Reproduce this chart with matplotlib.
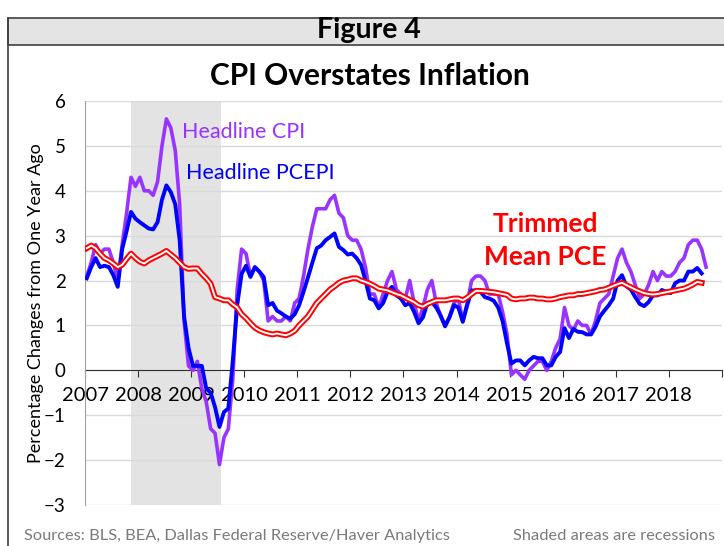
import numpy as np
import matplotlib.pyplot as plt
from matplotlib.patches import Rectangle
from matplotlib.lines import Line2D

plt.rcParams['font.family'] = ['Lato', 'DejaVu Sans']

# monthly year-over-year % changes, starting Jan 2007
cpi = [2.1, 2.4, 2.8, 2.6, 2.7, 2.7, 2.4, 2.0, 2.8, 3.5, 4.3, 4.1,
       4.3, 4.0, 4.0, 3.9, 4.2, 5.0, 5.6, 5.4, 4.9, 3.7, 1.1, 0.1,
       0.0, 0.2, -0.4, -0.7, -1.3, -1.4, -2.1, -1.5, -1.3, -0.2, 1.8, 2.7,
       2.6, 2.1, 2.3, 2.2, 2.0, 1.1, 1.2, 1.1, 1.1, 1.2, 1.1, 1.5,
       1.6, 2.1, 2.7, 3.2, 3.6, 3.6, 3.6, 3.8, 3.9, 3.5, 3.4, 3.0,
       2.9, 2.9, 2.7, 2.3, 1.7, 1.7, 1.4, 1.7, 2.0, 2.2, 1.8, 1.7,
       1.6, 2.0, 1.5, 1.1, 1.4, 1.8, 2.0, 1.5, 1.2, 1.0, 1.2, 1.5,
       1.6, 1.1, 1.5, 2.0, 2.1, 2.1, 2.0, 1.7, 1.7, 1.7, 1.3, 0.8,
       -0.1, 0.0, -0.1, -0.2, 0.0, 0.1, 0.2, 0.2, 0.0, 0.2, 0.5, 0.7,
       1.4, 1.0, 0.9, 1.1, 1.0, 1.0, 0.8, 1.1, 1.5, 1.6, 1.7, 2.1,
       2.5, 2.7, 2.4, 2.2, 1.9, 1.6, 1.7, 1.9, 2.2, 2.0, 2.2, 2.1,
       2.1, 2.2, 2.4, 2.5, 2.8, 2.9, 2.9, 2.7, 2.3]

pce = [2.05, 2.3, 2.5, 2.3, 2.33, 2.3, 2.12, 1.86, 2.7, 3.1, 3.53, 3.38,
       3.3, 3.23, 3.16, 3.14, 3.3, 3.8, 4.12, 3.97, 3.7, 2.9, 1.2, 0.5,
       0.1, 0.1, 0.1, -0.4, -0.5, -0.82, -1.26, -0.93, -0.85, 0.2, 1.45, 2.15,
       2.33, 2.08, 2.3, 2.2, 2.08, 1.45, 1.5, 1.33, 1.27, 1.2, 1.15, 1.25,
       1.45, 1.75, 2.07, 2.4, 2.72, 2.78, 2.9, 2.97, 3.05, 2.75, 2.68, 2.58,
       2.6, 2.5, 2.35, 2.0, 1.6, 1.56, 1.38, 1.5, 1.75, 1.86, 1.67, 1.6,
       1.45, 1.5, 1.3, 1.05, 1.18, 1.5, 1.52, 1.4, 1.22, 0.98, 1.18, 1.45,
       1.4, 1.08, 1.45, 1.78, 1.78, 1.75, 1.63, 1.6, 1.55, 1.4, 1.1, 0.6,
       0.15, 0.22, 0.22, 0.11, 0.22, 0.3, 0.27, 0.27, 0.11, 0.11, 0.3, 0.41,
       0.94, 0.72, 0.92, 0.86, 0.85, 0.8, 0.8, 0.97, 1.2, 1.33, 1.45, 1.6,
       2.0, 2.12, 1.87, 1.8, 1.63, 1.48, 1.43, 1.52, 1.67, 1.67, 1.79, 1.75,
       1.72, 1.94, 2.0, 2.0, 2.2, 2.2, 2.28, 2.16]

trimmed = [2.72, 2.78, 2.72, 2.6, 2.5, 2.45, 2.38, 2.3, 2.35, 2.48, 2.6, 2.5,
           2.42, 2.38, 2.45, 2.5, 2.55, 2.6, 2.66, 2.58, 2.5, 2.4, 2.3, 2.26,
           2.27, 2.27, 2.15, 2.05, 1.93, 1.63, 1.6, 1.56, 1.56, 1.47, 1.4, 1.25,
           1.16, 1.05, 0.95, 0.89, 0.85, 0.82, 0.8, 0.82, 0.8, 0.78, 0.82, 0.88,
           1.0, 1.1, 1.2, 1.35, 1.5, 1.6, 1.7, 1.8, 1.87, 1.95, 2.0, 2.02,
           2.05, 2.05, 2.0, 1.97, 1.93, 1.88, 1.82, 1.8, 1.78, 1.74, 1.7, 1.67,
           1.62, 1.57, 1.52, 1.45, 1.42, 1.48, 1.52, 1.56, 1.56, 1.56, 1.58, 1.6,
           1.6, 1.56, 1.62, 1.7, 1.77, 1.77, 1.76, 1.75, 1.74, 1.72, 1.7, 1.68,
           1.6, 1.58, 1.6, 1.6, 1.62, 1.62, 1.6, 1.6, 1.58, 1.58, 1.6, 1.63,
           1.65, 1.67, 1.67, 1.7, 1.7, 1.72, 1.74, 1.76, 1.79, 1.8, 1.84, 1.88,
           1.92, 1.95, 1.9, 1.85, 1.8, 1.76, 1.72, 1.7, 1.69, 1.7, 1.72, 1.74,
           1.76, 1.78, 1.8, 1.82, 1.86, 1.91, 1.97, 1.95]

years = list(range(2007, 2019))
recession = (2007.87, 2009.57)


def month_x(vals):
    return 2007 + (np.arange(len(vals)) + 0.4) / 12


fig = plt.figure(figsize=(7.24, 5.46), dpi=100)

# frame and header box
fig.add_artist(Line2D([8/724, 8/724], [0, 1 - 18/546], color='#404040', lw=1.2))
fig.add_artist(Rectangle((8/724, 1 - 45/546), 1, 27/546, facecolor='#e4e4e4',
                         edgecolor='#404040', lw=1.2))
fig.text(0.51, 1 - 30/546, 'Figure 4', ha='center', va='center',
         fontsize=20.5, fontweight='bold')
fig.text(0.511, 1 - 76/546, 'CPI Overstates Inflation', ha='center', va='center',
         fontsize=21.5, fontweight='bold')

ax = fig.add_axes([85/724, 1 - 505/546, 637/724, 404/546])
ax.axvspan(*recession, color='#e3e3e3', zorder=0, lw=0)

ax.plot(month_x(cpi), cpi, color='#9933ff', lw=2.6, zorder=3)
ax.plot(month_x(pce), pce, color='#0000ff', lw=2.8, zorder=4)
xt = month_x(trimmed)
ax.plot(xt, trimmed, color='#ff0000', lw=4.2, zorder=5)
ax.plot(xt, trimmed, color='white', lw=1.4, zorder=6)

ax.set_xlim(2007, 2019)
ax.set_ylim(-3, 6)
ax.set_yticks(range(-3, 7))
ax.yaxis.grid(True, color='#d9d9d9', lw=1)
ax.set_axisbelow(True)
ax.set_xticks(years + [2019])
ax.set_xticklabels([str(y) for y in years] + [''])

for s in ['top', 'right']:
    ax.spines[s].set_visible(False)
ax.spines['left'].set_color('#a0a0a0')
ax.spines['bottom'].set_position(('data', 0))
ax.spines['bottom'].set_color('#303030')
ax.spines['bottom'].set_zorder(2)
ax.tick_params(axis='x', direction='out', length=5, color='#303030',
               labelsize=14.5, pad=7)
ax.tick_params(axis='y', length=0, labelsize=13.5, pad=14)
ax.set_ylabel('Percentage Changes from One Year Ago', fontsize=13, labelpad=0)

ax.text(2008.82, 5.3, 'Headline CPI', color='#9933ff', fontsize=15.5, va='center')
ax.text(2008.9, 4.4, 'Headline PCEPI', color='#0000ff', fontsize=15.5, va='center')
ax.text(2015.67, 2.9, 'Trimmed\nMean PCE', color='#ff0000', fontsize=19,
        fontweight='bold', ha='center', va='center', linespacing=1.45)

fig.text(24/724, 10/546, 'Sources: BLS, BEA, Dallas Federal Reserve/Haver Analytics',
         color='#7a7a7a', fontsize=11.8, va='center')
fig.text(715/724, 10/546, 'Shaded areas are recessions', color='#7a7a7a',
         fontsize=11.8, va='center', ha='right')

fig.savefig('out.png', dpi=100)
